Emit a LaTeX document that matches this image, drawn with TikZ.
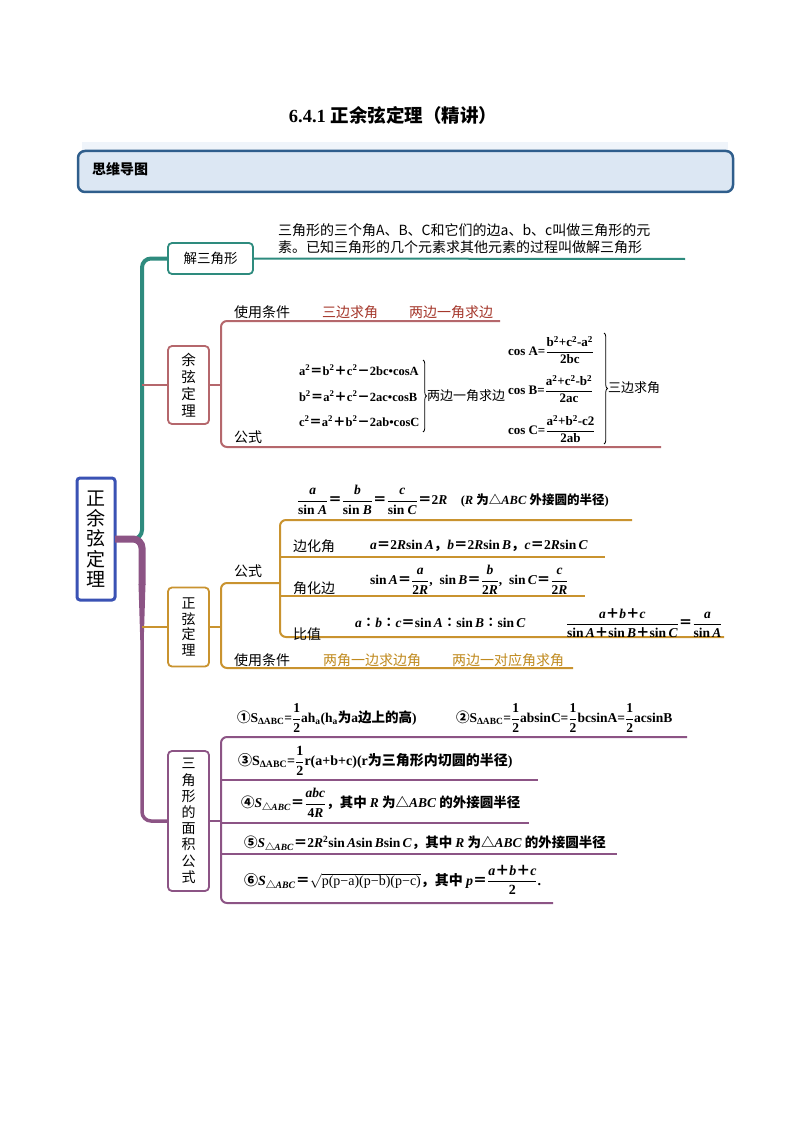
\documentclass[tikz,border=0pt]{standalone}
\usepackage{fontspec}
\usepackage{amsmath}
\setmainfont{Liberation Serif}
\newfontfamily\cjk{Noto Sans CJK SC}
\usetikzlibrary{decorations.pathreplacing}
\newcommand\zh[1]{{\cjk #1}}
\newcommand\fr[2]{\ensuremath{\dfrac{\text{#1}}{\text{#2}}}}
\newcommand\eq{{\cjk ＝}}
\newcommand\pl{{\cjk ＋}}
\newcommand\mi{{\cjk －}}
\newcommand\sig[1]{\textit{#1}}
\definecolor{teal1}{HTML}{2E8B7E}
\definecolor{rose}{HTML}{B5676C}
\definecolor{gold}{HTML}{C9932F}
\definecolor{plum}{HTML}{8C5485}
\definecolor{cblue}{HTML}{3A52B4}
\definecolor{hdrfill}{HTML}{DCE7F3}
\definecolor{hdrdraw}{HTML}{2F5E8C}
\definecolor{redtxt}{HTML}{A5372B}
\definecolor{goldtxt}{HTML}{C08A1E}
\tikzset{
  every node/.style={inner sep=0pt, outer sep=0pt},
  bx/.style={draw, line width=1.8pt, rounded corners=4pt, align=center, fill=white},
  lbl/.style={anchor=west, font=\cjk\fontsize{14}{16}\selectfont},
  slbl/.style={anchor=west, font=\cjk\fontsize{13}{15}\selectfont},
  fm/.style={anchor=west, font=\bfseries\fontsize{13.5}{15}\selectfont},
  br/.style={line width=2pt, rounded corners=6pt},
  brc/.style={decorate, decoration={brace, amplitude=3.5pt}, line width=0.8pt}
}
\begin{document}
\begin{tikzpicture}[x=1pt,y=-1pt]
\useasboundingbox (0,0) rectangle (794,1123);
\fill[white] (0,0) rectangle (794,1123);

% title and header
\node (title) at (393,115) {\fontsize{18.5}{21}\selectfont\bfseries 6.4.1 \zh{正余弦定理（精讲）}};
\fill[hdrfill!45] (82,142) rectangle (728,152);
\node[draw=hdrdraw, line width=2.5pt, fill=hdrfill, rounded corners=7pt, minimum width=655pt, minimum height=41pt, anchor=north west] (hdr) at (78,151) {};
\node[anchor=west, font=\cjk\bfseries\fontsize{14}{16}\selectfont] (hdrtxt) at (92,169) {思维导图};

% root
\node[draw=cblue, line width=3pt, rounded corners=3pt, minimum width=38pt, minimum height=122pt, align=center, font=\cjk\fontsize{19}{20.3}\selectfont] (root) at (96,539) {正\\余\\弦\\定\\理};
\coordinate (tk) at (142,539);
\coordinate (tk2) at (142,585);

% first-level boxes
\node[bx, draw=teal1, minimum width=85pt, minimum height=31pt, font=\cjk\fontsize{13.5}{16}\selectfont] (jie) at (210.5,258.5) {解三角形};
\node[bx, draw=rose, minimum width=41pt, minimum height=78pt, font=\cjk\fontsize{14.5}{17}\selectfont] (yx) at (188.5,385) {余\\弦\\定\\理};
\node[bx, draw=gold, minimum width=41pt, minimum height=79pt, font=\cjk\fontsize{14}{15.5}\selectfont] (zx) at (188.5,627) {正\\弦\\定\\理};
\node[bx, draw=plum, minimum width=41pt, minimum height=140pt, font=\cjk\fontsize{14}{16.2}\selectfont] (area) at (188.5,821) {三\\角\\形\\的\\面\\积\\公\\式};

% trunks
\draw[teal1, line width=4pt, rounded corners=9pt] (root.east) -| (tk |- jie.west) -- (jie.west);
\draw[rose, line width=2pt] (tk |- yx.west) -- (yx.west);
\draw[plum, line width=3.5pt, rounded corners=9pt] (root.east) -| (tk |- area.west) -- (area.west);
\draw[plum, line width=7pt, rounded corners=9pt] (root.east) -| (tk2);
\fill[plum] (138.5,584) -- (145.5,584) -- (143.75,640) -- (140.25,640) -- cycle;
\draw[gold, line width=2.5pt] (tk |- zx.west) -- (zx.west);

% ---- 解三角形
\coordinate (jieend) at (685,259);
\draw[teal1, line width=2pt] (jie.east) -- (jieend);
\node[anchor=north west, align=left, font=\cjk\fontsize{14}{17}\selectfont] (jietxt) at (278,224) {三角形的三个角A、B、C和它们的边a、b、c叫做三角形的元\\素。已知三角形的几个元素求其他元素的过程叫做解三角形};

% ---- 余弦定理
\coordinate (yxb) at (221,385);
\coordinate (yxt) at (500,321);
\coordinate (yxd) at (661,447);
\draw[rose, line width=2pt] (yx.east) -- (yxb);
\draw[rose, br] (yxt) -- (yxb |- yxt) -- (yxb |- yxd) -- (yxd);
\node[lbl] (yxcond) at (234,312) {使用条件};
\node[lbl, text=redtxt] (yxc1) at (322,312) {三边求角};
\node[lbl, text=redtxt] (yxc2) at (409,312) {两边一角求边};
\node[lbl] (yxgs) at (234,437) {公式};
\node[fm, font=\bfseries\fontsize{12.5}{14}\selectfont] (la) at (299,370) {a\textsuperscript{2}\eq b\textsuperscript{2}\pl c\textsuperscript{2}\mi 2bc•cosA};
\node[fm, font=\bfseries\fontsize{12.5}{14}\selectfont] (lb) at (299,396) {b\textsuperscript{2}\eq a\textsuperscript{2}\pl c\textsuperscript{2}\mi 2ac•cosB};
\node[fm, font=\bfseries\fontsize{12.5}{14}\selectfont] (lc) at (299,421) {c\textsuperscript{2}\eq a\textsuperscript{2}\pl b\textsuperscript{2}\mi 2ab•cosC};
\draw[brc] (423,360) -- (423,432);
\node[slbl] (lbr) at (427,396) {两边一角求边};
\node[fm, font=\bfseries\fontsize{13}{15}\selectfont] (ca) at (508,350) {cos A=\fr{b\textsuperscript{2}+c\textsuperscript{2}-a\textsuperscript{2}}{2bc}};
\node[fm, font=\bfseries\fontsize{13}{15}\selectfont] (cb) at (508,389) {cos B=\fr{a\textsuperscript{2}+c\textsuperscript{2}-b\textsuperscript{2}}{2ac}};
\node[fm, font=\bfseries\fontsize{13}{15}\selectfont] (cc) at (508,429) {cos C=\fr{a\textsuperscript{2}+b\textsuperscript{2}-c2}{2ab}};
\draw[brc] (604,333) -- (604,444);
\node[slbl] (cbr) at (608,388) {三边求角};

% ---- 正弦定理
\coordinate (zxb) at (221,627);
\coordinate (zxt) at (280,583);
\coordinate (zxd) at (573,668);
\coordinate (g1) at (632,520);
\coordinate (g2) at (605,557);
\coordinate (g3) at (585,596);
\coordinate (g4) at (724,637);
\draw[gold, line width=2pt] (zx.east) -- (zxb);
\draw[gold, br] (zxt) -- (zxb |- zxt) -- (zxb |- zxd) -- (zxd);
\draw[gold, br] (g1) -- (zxt |- g1) -- (zxt |- g4) -- (g4);
\draw[gold, line width=2pt] (zxt |- g2) -- (g2);
\draw[gold, line width=2pt] (zxt |- g3) -- (g3);
\node[lbl] (zxgs) at (234,571) {公式};
\node[fm] (f1) at (297,500) {\fr{\sig{a}}{sin \sig{A}}\eq\fr{\sig{b}}{sin \sig{B}}\eq\fr{\sig{c}}{sin \sig{C}}\eq 2\sig{R}\quad{\fontsize{12.5}{14}\selectfont(\sig{R} \zh{为△}\sig{ABC} \zh{外接圆的半径})}};
\node[lbl] (bhj) at (293,546) {边化角};
\node[fm] (f2) at (370,546) {\sig{a}\eq 2\sig{R}sin\,\sig{A}\zh{，}\sig{b}\eq 2\sig{R}sin\,\sig{B}\zh{，}\sig{c}\eq 2\sig{R}sin\,\sig{C}};
\node[lbl] (jhb) at (293,588) {角化边};
\node[fm] (f3) at (370,580) {sin\,\sig{A}\eq\fr{\sig{a}}{2\sig{R}}, \ sin\,\sig{B}\eq\fr{\sig{b}}{2\sig{R}}, \ sin\,\sig{C}\eq\fr{\sig{c}}{2\sig{R}}};
\node[lbl] (bz) at (293,634) {比值};
\node[fm] (f4) at (355,623) {\sig{a}\zh{∶}\sig{b}\zh{∶}\sig{c}\eq sin\,\sig{A}\zh{∶}sin\,\sig{B}\zh{∶}sin\,\sig{C}};
\node[fm] (f5) at (566,623) {\fr{\sig{a}\pl\sig{b}\pl\sig{c}}{sin\,\sig{A}\pl sin\,\sig{B}\pl sin\,\sig{C}}\eq\fr{\sig{a}}{sin\,\sig{A}}};
\node[lbl] (zxcond) at (234,660) {使用条件};
\node[lbl, text=goldtxt] (zxc1) at (323,660) {两角一边求边角};
\node[lbl, text=goldtxt] (zxc2) at (452,660) {两边一对应角求角};

% ---- 面积公式
\coordinate (arb) at (221,821);
\coordinate (a1) at (687,737);
\coordinate (a2) at (538,780);
\coordinate (a3) at (529,823);
\coordinate (a4) at (617,854);
\coordinate (a5) at (553,903);
\draw[plum, line width=2pt] (area.east) -- (arb);
\draw[plum, br] (a1) -- (arb |- a1) -- (arb |- a5) -- (a5);
\draw[plum, line width=2pt] (arb |- a2) -- (a2);
\draw[plum, line width=2pt] (arb |- a3) -- (a3);
\draw[plum, line width=2pt] (arb |- a4) -- (a4);
\node[fm, font=\bfseries\fontsize{13.5}{15}\selectfont] (s1) at (237,718) {\zh{①}S\textsubscript{ΔABC}=\fr{1}{2}ah\textsubscript{a}(h\textsubscript{a}\zh{为}a\zh{边上的高})};
\node[fm, font=\bfseries\fontsize{13.5}{15}\selectfont] (s2) at (456,718) {\zh{②}S\textsubscript{ΔABC}=\fr{1}{2}absinC=\fr{1}{2}bcsinA=\fr{1}{2}acsinB};
\node[fm, font=\bfseries\fontsize{14}{16}\selectfont] (s3) at (238,761) {\zh{③}S\textsubscript{ΔABC}=\fr{1}{2}r(a+b+c)(r\zh{为三角形内切圆的半径})};
\node[fm, font=\bfseries\fontsize{13.5}{15}\selectfont] (s4) at (241,803) {\zh{④}\sig{S}\textsubscript{\zh{△}\sig{ABC}}\eq\fr{\sig{abc}}{4\sig{R}}\zh{，其中 }\sig{R}\zh{ 为△}\sig{ABC}\zh{ 的外接圆半径}};
\node[fm, font=\bfseries\fontsize{13.5}{15}\selectfont] (s5) at (244,843) {\zh{⑤}\sig{S}\textsubscript{\zh{△}\sig{ABC}}\eq 2\sig{R}\textsuperscript{2}sin\,\sig{A}sin\,\sig{B}sin\,\sig{C}\zh{，其中 }\sig{R}\zh{ 为△}\sig{ABC}\zh{ 的外接圆半径}};
\node[fm, font=\bfseries\fontsize{14}{16}\selectfont] (s6) at (244,880) {\zh{⑥}\sig{S}\textsubscript{\zh{△}\sig{ABC}}\eq$\sqrt{\text{\mdseries p(p−a)(p−b)(p−c)}}$\zh{，其中 }\sig{p}\eq\fr{\sig{a}\pl\sig{b}\pl\sig{c}}{2}.};
\end{tikzpicture}
\end{document}
